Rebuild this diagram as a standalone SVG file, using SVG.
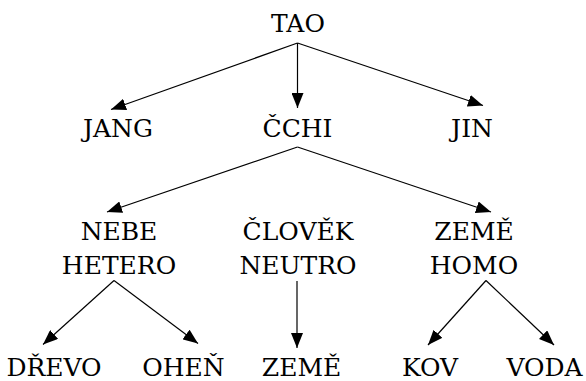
<svg xmlns="http://www.w3.org/2000/svg" width="586" height="381" viewBox="0 0 586 381">
<style>
.t text{font-family:'DejaVu Serif','Liberation Serif',serif;font-size:25px;fill:#000;text-anchor:middle}
.c line{stroke:#000;stroke-width:1.2;marker-end:url(#ah)}
</style>
<defs>
<marker id="ah" markerUnits="userSpaceOnUse" markerWidth="15" markerHeight="12" refX="15" refY="6" orient="auto" viewBox="0 0 15 12">
<path d="M0,0 L15,6 L0,12 z" fill="#000"/>
</marker>
</defs>
<rect width="586" height="381" fill="#fff"/>
<g class="c" id="connectors">
<line x1="297.5" y1="43" x2="111" y2="109.5"/>
<line x1="297.5" y1="43" x2="297.5" y2="108"/>
<line x1="297.5" y1="43" x2="483" y2="105.5"/>
<line x1="297.5" y1="147" x2="107" y2="212"/>
<line x1="297.5" y1="147" x2="491" y2="212"/>
<line x1="114" y1="280.5" x2="43" y2="344.5"/>
<line x1="114" y1="280.5" x2="198" y2="343.5"/>
<line x1="297" y1="281" x2="297" y2="348"/>
<line x1="486" y1="280.5" x2="428" y2="345"/>
<line x1="486" y1="280.5" x2="554" y2="345"/>
</g>
<g class="t">
<g id="tao"><text x="298" y="32">TAO</text></g>
<g id="jang"><text x="118" y="137">JANG</text></g>
<g id="cchi"><text x="297.5" y="137">ČCHI</text></g>
<g id="jin"><text x="472" y="137">JIN</text></g>
<g id="nebe"><text x="119" y="240">NEBE</text><text x="119" y="274">HETERO</text></g>
<g id="clovek"><text x="298" y="240">ČLOVĚK</text><text x="298" y="274">NEUTRO</text></g>
<g id="zeme-homo"><text x="474" y="240">ZEMĚ</text><text x="474" y="274">HOMO</text></g>
<g id="drevo"><text x="54" y="376">DŘEVO</text></g>
<g id="ohen"><text x="183.5" y="376">OHEŇ</text></g>
<g id="zeme"><text x="301.5" y="376">ZEMĚ</text></g>
<g id="kov"><text x="430" y="376">KOV</text></g>
<g id="voda"><text x="544.5" y="376">VODA</text></g>
</g>
</svg>
